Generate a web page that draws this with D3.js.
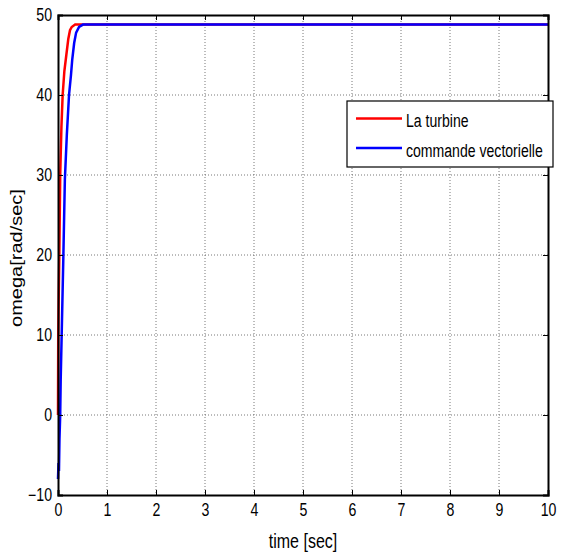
<!DOCTYPE html>
<html>
<head>
<meta charset="utf-8">
<script src="https://cdn.jsdelivr.net/npm/d3@7"></script>
<style>
  body { margin: 0; background: #fff; }
  svg { font-family: "Liberation Sans", Arial, sans-serif; }
</style>
</head>
<body>
<div id="chart"></div>
<script>
// Data
const xTicks = [0, 1, 2, 3, 4, 5, 6, 7, 8, 9, 10];
const yTicks = [-10, 0, 10, 20, 30, 40, 50];

const turbineT = [0, 0.005, 0.015, 0.027, 0.045, 0.07, 0.095, 0.13, 0.17, 0.21, 0.245, 0.28, 0.35, 10];
const turbineV = [0, 10, 15, 20, 30, 36, 40, 43, 45, 47, 48.1, 48.5, 48.8, 48.8];

const commandeT = [0, 0.01, 0.02, 0.03, 0.045, 0.055, 0.075, 0.11, 0.14, 0.18, 0.225, 0.265, 0.29, 0.33, 0.37, 0.43, 0.51, 10];
const commandeV = [-8, -6, -7, -3, 0, 4.4, 10, 20, 29.4, 35, 40, 42.5, 44.4, 46.5, 47.8, 48.5, 48.8, 48.8];

const seriesNames = ["La turbine", "commande vectorielle"];
const colors = { turbine: "#ff0000", commande: "#0000ff" };

// the picture is squeezed horizontally, so text is narrowed too
const squeeze = 0.8;

const width = 561, height = 553;
const margin = { top: 15, right: 13, bottom: 58, left: 58 };
const plotW = width - margin.left - margin.right;
const plotH = height - margin.top - margin.bottom;

const svg = d3.select("#chart")
    .append("svg")
    .attr("width", width)
    .attr("height", height);

const g = svg.append("g")
    .attr("transform", `translate(${margin.left},${margin.top})`);

const x = d3.scaleLinear().domain([0, 10]).range([0, plotW]);
const y = d3.scaleLinear().domain([-10, 50]).range([plotH, 0]);

// grid
g.selectAll(".gx").data(xTicks.slice(1, -1)).enter().append("line")
    .attr("x1", d => x(d)).attr("x2", d => x(d))
    .attr("y1", 0).attr("y2", plotH)
    .attr("stroke", "#555").attr("stroke-width", 0.8)
    .attr("stroke-dasharray", "1,2");
g.selectAll(".gy").data(yTicks.slice(1, -1)).enter().append("line")
    .attr("x1", 0).attr("x2", plotW)
    .attr("y1", d => y(d)).attr("y2", d => y(d))
    .attr("stroke", "#555").attr("stroke-width", 0.8)
    .attr("stroke-dasharray", "1,2");

// curves
const line = d3.line().x(d => x(d[0])).y(d => y(d[1]));
const turbine = turbineT.map((t, i) => [t, turbineV[i]]);
const commande = commandeT.map((t, i) => [t, commandeV[i]]);

g.append("path").datum(turbine)
    .attr("d", line).attr("fill", "none")
    .attr("stroke", colors.turbine).attr("stroke-width", 2.5);
g.append("path").datum(commande)
    .attr("d", line).attr("fill", "none")
    .attr("stroke", colors.commande).attr("stroke-width", 2.5);

// axes (ticks inward)
const xAxis = d3.axisBottom(x).tickValues(xTicks).tickSize(-5).tickPadding(8);
const yAxis = d3.axisLeft(y).tickValues(yTicks).tickSize(-5).tickPadding(6);

const gx = g.append("g").attr("transform", `translate(0,${plotH})`).call(xAxis);
const gy = g.append("g").call(yAxis);
g.append("g").call(d3.axisTop(x).tickValues(xTicks).tickSize(-5).tickFormat(""));
g.append("g").attr("transform", `translate(${plotW},0)`)
    .call(d3.axisRight(y).tickValues(yTicks).tickSize(-5).tickFormat(""));

g.selectAll(".domain").attr("stroke", "#000").attr("stroke-width", 2);
g.selectAll(".tick line").attr("stroke", "#000");
[gx, gy].forEach(a => a.selectAll("text")
    .attr("font-size", 17.7).attr("fill", "#000")
    .attr("font-family", "'Liberation Sans', Arial, sans-serif"));

// legend
const leg = svg.append("g").attr("transform", "translate(347,101)");
leg.append("rect").attr("width", 206).attr("height", 66)
    .attr("fill", "#fff").attr("stroke", "#000").attr("stroke-width", 1.2);
seriesNames.forEach((name, i) => {
    const yy = 17.5 + i * 29.5;
    leg.append("line").attr("x1", 9).attr("x2", 55).attr("y1", yy).attr("y2", yy)
        .attr("stroke", i === 0 ? colors.turbine : colors.commande).attr("stroke-width", 2.5);
    leg.append("text").attr("x", 59).attr("y", yy + 9).attr("font-size", 17.6).text(name);
});

// x title
svg.append("text")
    .attr("x", margin.left + plotW / 2).attr("y", 548)
    .attr("text-anchor", "middle").attr("font-size", 20)
    .text("time [sec]");

// narrow the horizontal texts around their anchor point
svg.selectAll("text").each(function() {
    const ax = +(this.getAttribute("x") || 0);
    d3.select(this).attr("transform", `translate(${ax * (1 - squeeze)},0) scale(${squeeze},1)`);
});

// y title: full length along the axis, thinner across it
svg.append("text")
    .attr("transform", `translate(21.5,${margin.top + plotH / 2 + 3}) scale(${squeeze},1) rotate(-90)`)
    .attr("text-anchor", "middle").attr("font-size", 20)
    .text("omega[rad/sec]");
</script>
</body>
</html>
